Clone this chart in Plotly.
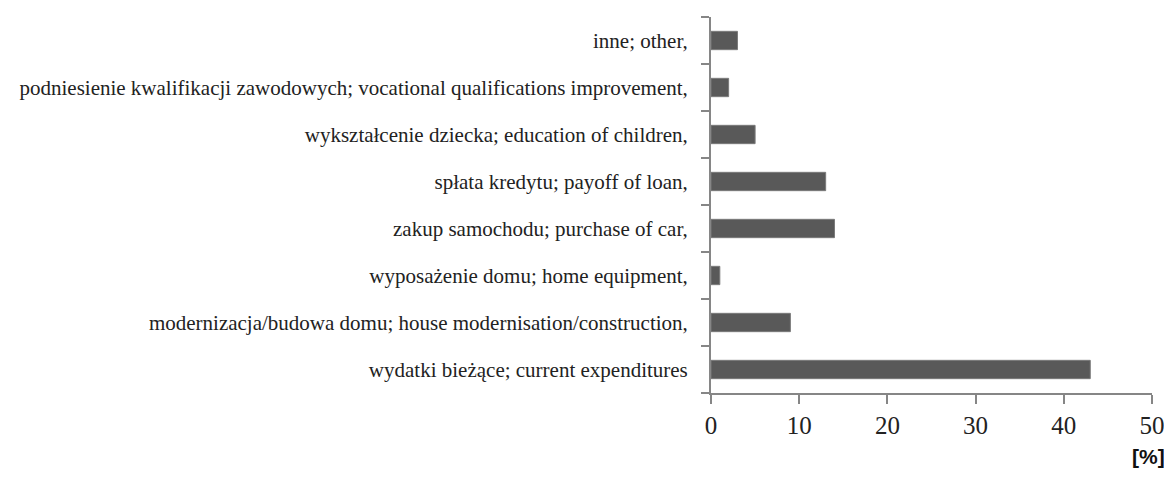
import plotly.graph_objects as go

categories = [
    "wydatki bieżące; current expenditures",
    "modernizacja/budowa domu; house modernisation/construction,",
    "wyposażenie domu; home equipment,",
    "zakup samochodu; purchase of car,",
    "spłata kredytu; payoff of loan,",
    "wykształcenie dziecka; education of children,",
    "podniesienie kwalifikacji zawodowych; vocational qualifications improvement,",
    "inne; other,",
]
values = [43, 9, 1, 14, 13, 5, 2, 3]
x_ticks = [0, 10, 20, 30, 40, 50]
unit_label = "[%]"

fig = go.Figure(go.Bar(
    x=values, y=categories, orientation="h",
    marker=dict(color="#595959", line=dict(color="#7a7a7a", width=1)),
))

axis_color = "#868686"
fig.update_layout(
    width=1164, height=473,
    margin=dict(l=703, r=20, t=9, b=88, autoexpand=False),
    paper_bgcolor="white", plot_bgcolor="white",
    bargap=0.61,
    showlegend=False,
    xaxis=dict(
        range=[0, 50], tickvals=x_ticks, showgrid=False, zeroline=False,
        showline=True, linecolor=axis_color, linewidth=2, automargin=False,
        ticks="outside", ticklen=9, tickwidth=2, tickcolor=axis_color,
        tickfont=dict(family="Times New Roman", size=25, color="#222222"),
        ticklabelstandoff=0,
    ),
    yaxis=dict(
        type="category", showgrid=False, zeroline=False, automargin=False,
        showline=True, linecolor=axis_color, linewidth=2,
        ticks="outside", tickson="boundaries", ticklen=8, tickwidth=2, tickcolor=axis_color,
        tickfont=dict(family="Liberation Serif", size=21, color="#222222"),
        ticklabelstandoff=17,
    ),
    annotations=[dict(
        text="<b>" + unit_label + "</b>", xref="paper", yref="paper",
        x=1.034, y=-0.17, xanchor="right", yanchor="middle", showarrow=False,
        font=dict(family="Liberation Sans", size=21, color="#111111"),
    )],
)

fig.write_html("out.html")
